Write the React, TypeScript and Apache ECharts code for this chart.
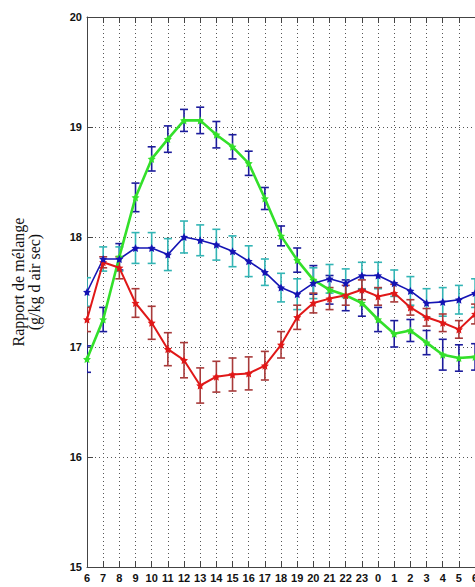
import React, { useEffect, useRef } from "react";
import * as echarts from "echarts";

// Hour of day, from 06h through the night to 06h the next morning
const hours = ["6", "7", "8", "9", "10", "11", "12", "13", "14", "15", "16", "17", "18", "19", "20", "21", "22", "23", "0", "1", "2", "3", "4", "5", "6"];

// Mixing ratio (g/kg dry air): mean and half-width of the error bar
const greenMean = [16.89, 17.25, 17.82, 18.36, 18.71, 18.89, 19.06, 19.06, 18.93, 18.82, 18.67, 18.35, 18.01, 17.79, 17.61, 17.52, 17.47, 17.4, 17.25, 17.12, 17.15, 17.04, 16.93, 16.9, 16.91];
const greenErr = [0.12, 0.11, 0.12, 0.13, 0.11, 0.12, 0.1, 0.12, 0.12, 0.11, 0.11, 0.1, 0.09, 0.11, 0.13, 0.13, 0.14, 0.12, 0.11, 0.12, 0.1, 0.11, 0.14, 0.12, 0.12];

const blueMean = [17.5, 17.8, 17.8, 17.9, 17.9, 17.84, 18.0, 17.97, 17.93, 17.87, 17.78, 17.68, 17.54, 17.48, 17.58, 17.62, 17.58, 17.65, 17.65, 17.58, 17.51, 17.4, 17.41, 17.43, 17.49];
const blueErr = [0.13, 0.11, 0.11, 0.14, 0.14, 0.145, 0.145, 0.14, 0.14, 0.14, 0.14, 0.12, 0.13, 0.14, 0.14, 0.13, 0.13, 0.12, 0.12, 0.12, 0.13, 0.13, 0.13, 0.13, 0.13];

const redMean = [17.25, 17.77, 17.72, 17.4, 17.22, 16.98, 16.88, 16.65, 16.73, 16.75, 16.76, 16.83, 17.02, 17.27, 17.4, 17.44, 17.47, 17.52, 17.46, 17.49, 17.36, 17.27, 17.22, 17.16, 17.3];
const redErr = [0.11, 0.05, 0.1, 0.13, 0.15, 0.15, 0.16, 0.16, 0.14, 0.15, 0.15, 0.13, 0.12, 0.11, 0.09, 0.1, 0.09, 0.09, 0.08, 0.08, 0.07, 0.08, 0.08, 0.08, 0.09];

const yTicks = [15, 16, 17, 18, 19, 20];

const STAR =
  "path://M0,-10 L2.9,-4 L9.5,-3.1 L4.7,1.5 L5.9,8.1 L0,5 L-5.9,8.1 L-4.7,1.5 L-9.5,-3.1 L-2.9,-4 Z";

const AXIS_FONT = "'Liberation Sans', Arial, Helvetica, sans-serif";

function lineSeries(mean: number[], color: string, width: number) {
  return {
    type: "line",
    data: mean.map((v, i) => [i, v]),
    symbol: STAR,
    symbolSize: 8,
    showSymbol: true,
    itemStyle: { color },
    lineStyle: { color, width },
    z: 4,
  };
}

function errorSeries(mean: number[], err: number[], color: string) {
  return {
    type: "custom",
    clip: true,
    z: 3,
    data: mean.map((v, i) => [i, v - err[i], v + err[i]]),
    renderItem: (_params: any, api: any) => {
      const x = api.value(0);
      const lo = api.coord([x, api.value(1)]);
      const hi = api.coord([x, api.value(2)]);
      const w = 4;
      const style = { stroke: color, lineWidth: 1.6 };
      return {
        type: "group",
        children: [
          { type: "line", shape: { x1: lo[0], y1: lo[1], x2: hi[0], y2: hi[1] }, style },
          { type: "line", shape: { x1: lo[0] - w, y1: lo[1], x2: lo[0] + w, y2: lo[1] }, style },
          { type: "line", shape: { x1: hi[0] - w, y1: hi[1], x2: hi[0] + w, y2: hi[1] }, style },
        ],
      };
    },
  };
}

export default function App() {
  const ref = useRef<HTMLDivElement>(null);

  useEffect(() => {
    if (!ref.current) return;
    const chart = echarts.init(ref.current, undefined, { renderer: "svg" });
    const axisLineStyle = { color: "#444", width: 1 };
    const gridLine = { show: true, lineStyle: { color: "#555", type: [1, 3], width: 1 } };

    chart.setOption({
      animation: false,
      backgroundColor: "#ffffff",
      grid: { left: 87, top: 17, width: 404.25, height: 550 },
      xAxis: [
        {
          type: "value",
          min: 0,
          max: 25,
          interval: 1,
          position: "bottom",
          axisLine: { show: true, lineStyle: axisLineStyle },
          axisTick: { show: true, inside: true, length: 6, lineStyle: axisLineStyle },
          axisLabel: {
            formatter: (v: number) => hours[v] ?? "",
            color: "#111",
            fontFamily: AXIS_FONT,
            fontWeight: "bold",
            fontSize: 11,
            margin: 5,
            showMinLabel: true,
            showMaxLabel: false,
          },
          splitLine: gridLine,
        },
        {
          type: "value",
          min: 0,
          max: 25,
          interval: 1,
          position: "top",
          axisLine: { show: true, lineStyle: axisLineStyle },
          axisTick: { show: true, inside: true, length: 6, lineStyle: axisLineStyle },
          axisLabel: { show: false },
          splitLine: { show: false },
        },
      ],
      yAxis: {
        type: "value",
        min: yTicks[0],
        max: yTicks[yTicks.length - 1],
        interval: 1,
        axisLine: { show: true, lineStyle: axisLineStyle },
        axisTick: { show: true, inside: true, length: 6, lineStyle: axisLineStyle },
        axisLabel: {
          color: "#111",
          fontFamily: AXIS_FONT,
          fontWeight: "bold",
          fontSize: 11,
          margin: 5,
        },
        splitLine: gridLine,
      },
      graphic: [
        {
          type: "text",
          x: 26,
          y: 282,
          rotation: Math.PI / 2,
          style: {
            text: "Rapport de mélange\n(g/kg d air sec)",
            font: "16px 'Liberation Serif', 'Times New Roman', serif",
            fill: "#111",
            align: "center",
            verticalAlign: "middle",
            lineHeight: 16,
          },
        },
      ],
      series: [
        errorSeries(greenMean, greenErr, "#1c1c9c"),
        errorSeries(blueMean, blueErr, "#33b5b5"),
        errorSeries(redMean, redErr, "#a83a3a"),
        lineSeries(greenMean, "#33e02a", 2.6),
        lineSeries(redMean, "#e01818", 2),
        lineSeries(blueMean, "#1414b4", 1.6),
      ],
    });

    return () => chart.dispose();
  }, []);

  // The plot runs on past the right edge of the visible frame
  return (
    <div style={{ position: "absolute", left: 0, top: 0, width: 475, height: 587, overflow: "hidden" }}>
      <div ref={ref} style={{ width: 520, height: 587 }} />
    </div>
  );
}
